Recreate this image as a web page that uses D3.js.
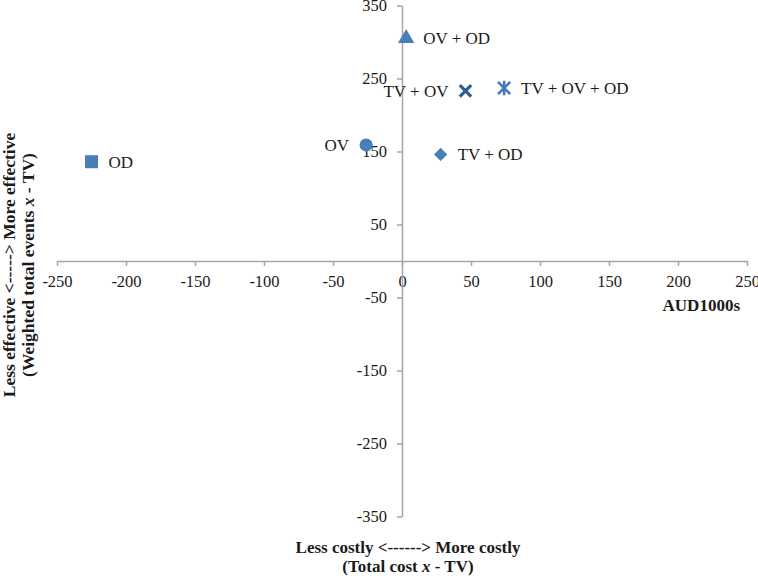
<!DOCTYPE html>
<html>
<head>
<meta charset="utf-8">
<script src="https://cdn.jsdelivr.net/npm/d3@7"></script>
<style>
  body { margin: 0; background: #fff; }
  svg { display: block; font-family: "Liberation Serif", "Times New Roman", serif; }
</style>
</head>
<body>
<div id="chart"></div>
<script>
// strategies compared against TV
let strategies = ["OD", "OV", "OV + OD", "TV + OV", "TV + OV + OD", "TV + OD"];
let costDiff = [-225, -26, 3, 46, 74, 28];       // AUD1000s
let effectDiff = [136, 159, 305, 233, 237, 146]; // weighted total events
let xTicks = [-250, -200, -150, -100, -50, 0, 50, 100, 150, 200, 250];
let yTicks = [-350, -250, -150, -50, 50, 150, 250, 350];

let svgWidth = 758;
let svgHeight = 576;

let svg = d3.select("#chart")
  .append("svg")
  .attr("width", svgWidth)
  .attr("height", svgHeight);

let x = d3.scaleLinear().domain([-250, 250]).range([57, 747]);
let y = d3.scaleLinear().domain([-350, 350]).range([516.5, 5.5]);

let axisColor = "#a6a6a6";
let plainNum = d => String(d); // keep ascii hyphen for negatives

// x axis runs through y = 0
let xAxisG = svg.append("g")
  .attr("transform", `translate(0, ${y(0)})`)
  .call(d3.axisBottom(x).tickValues(xTicks).tickFormat(plainNum)
    .tickSize(5).tickSizeOuter(0).tickPadding(9));

// y axis runs through x = 0
let yAxisG = svg.append("g")
  .attr("transform", `translate(${x(0)}, 0)`)
  .call(d3.axisLeft(y).tickValues(yTicks).tickFormat(plainNum)
    .tickSize(5).tickSizeOuter(0).tickPadding(10));

[xAxisG, yAxisG].forEach(g => {
  g.attr("font-family", null).attr("font-size", null);
  g.select(".domain").attr("stroke", axisColor).attr("stroke-width", 1.5);
  g.selectAll(".tick line").attr("stroke", axisColor).attr("stroke-width", 1.5);
  g.selectAll(".tick text")
    .attr("fill", "#1a1a1a")
    .style("font-family", "'Liberation Serif', serif")
    .style("font-size", "16.5px");
});

// custom marker shapes
let symbolCross = {
  draw(ctx, size) {
    let r = Math.sqrt(size) / 2;
    ctx.moveTo(-r, -r); ctx.lineTo(r, r);
    ctx.moveTo(r, -r); ctx.lineTo(-r, r);
  }
};
let symbolStar = {
  draw(ctx, size) {
    let r = Math.sqrt(size) / 2;
    ctx.moveTo(-r, -r); ctx.lineTo(r, r);
    ctx.moveTo(r, -r); ctx.lineTo(-r, r);
    ctx.moveTo(0, -r * 1.2); ctx.lineTo(0, r * 1.2);
  }
};

let markerStyle = {
  "OD":           { type: d3.symbolSquare,   size: 170, fill: "#4a7ebb", side: "right" },
  "OV":           { type: d3.symbolCircle,   size: 135, fill: "#4a7ebb", side: "left" },
  "OV + OD":      { type: d3.symbolTriangle, size: 115, fill: "#4a7ebb", side: "right" },
  "TV + OV":      { type: symbolCross,       size: 130, stroke: "#2f5e96", width: 3.2, side: "left" },
  "TV + OV + OD": { type: symbolStar,        size: 150, stroke: "#4677bb", width: 2.6, side: "right" },
  "TV + OD":      { type: d3.symbolSquare,   size: 88,  fill: "#4a7ebb", rotate: 45, side: "right" }
};

let points = strategies.map((name, i) => ({ name: name, cost: costDiff[i], effect: effectDiff[i] }));

let pointG = svg.selectAll(".point")
  .data(points)
  .enter()
  .append("g")
  .attr("class", "point")
  .attr("transform", d => `translate(${x(d.cost)}, ${y(d.effect)})`);

pointG.append("path")
  .attr("d", d => d3.symbol().type(markerStyle[d.name].type).size(markerStyle[d.name].size)())
  .attr("transform", d => `rotate(${markerStyle[d.name].rotate || 0})`)
  .attr("fill", d => markerStyle[d.name].fill || "none")
  .attr("stroke", d => markerStyle[d.name].stroke || "none")
  .attr("stroke-width", d => markerStyle[d.name].width || 0);

pointG.append("text")
  .attr("x", d => markerStyle[d.name].side === "left" ? -17 : 17)
  .attr("y", 6)
  .attr("text-anchor", d => markerStyle[d.name].side === "left" ? "end" : "start")
  .attr("fill", "#1a1a1a")
  .style("font-size", "17px")
  .text(d => d.name);

// axis titles
svg.append("text")
  .attr("x", 740)
  .attr("y", 311)
  .attr("text-anchor", "end")
  .attr("font-weight", "bold")
  .attr("fill", "#1a1a1a")
  .style("font-size", "17px")
  .text("AUD1000s");

let bottomTitle = svg.append("text")
  .attr("text-anchor", "middle")
  .attr("font-weight", "bold")
  .attr("fill", "#1a1a1a")
  .style("font-size", "17px");
bottomTitle.append("tspan").attr("x", 408).attr("y", 553).text("Less costly <------> More costly");
let bt2 = bottomTitle.append("tspan").attr("x", 408).attr("y", 572);
bt2.append("tspan").text("(Total cost ");
bt2.append("tspan").attr("font-style", "italic").text("x");
bt2.append("tspan").text(" - TV)");

let leftTitle = svg.append("text")
  .attr("transform", "translate(0, 265) rotate(-90)")
  .attr("text-anchor", "middle")
  .attr("font-weight", "bold")
  .attr("fill", "#1a1a1a")
  .style("font-size", "17.5px");
leftTitle.append("tspan").attr("x", 0).attr("y", 15).text("Less effective <-----> More effective");
let lt2 = leftTitle.append("tspan").attr("x", 0).attr("y", 34);
lt2.append("tspan").text("(Weighted total events ");
lt2.append("tspan").attr("font-style", "italic").text("x");
lt2.append("tspan").text(" - TV)");
</script>
</body>
</html>
